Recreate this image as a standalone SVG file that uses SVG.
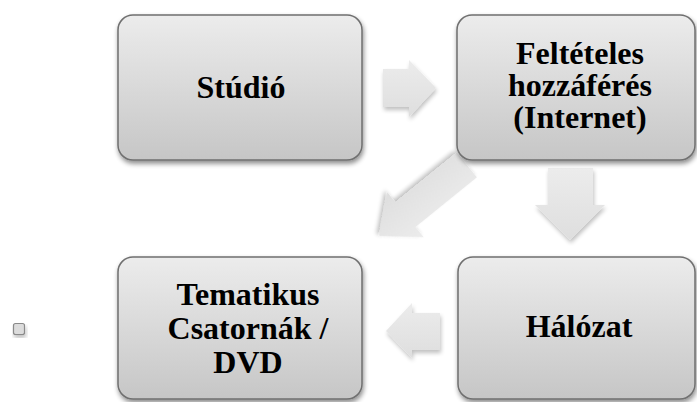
<svg xmlns="http://www.w3.org/2000/svg" width="697" height="402" viewBox="0 0 697 402">
<defs>
<linearGradient id="boxg" x1="0" y1="0" x2="0" y2="1">
<stop offset="0" stop-color="#ececec"/>
<stop offset="1" stop-color="#c6c6c6"/>
</linearGradient>
<linearGradient id="arrg" x1="0" y1="0" x2="0" y2="1">
<stop offset="0" stop-color="#ececec"/>
<stop offset="1" stop-color="#dedede"/>
</linearGradient>
<filter id="sh" x="-10%" y="-10%" width="125%" height="130%">
<feGaussianBlur in="SourceAlpha" stdDeviation="2.5"/>
<feOffset dx="1" dy="3" result="b"/>
<feComponentTransfer><feFuncA type="linear" slope="0.45"/></feComponentTransfer>
<feMerge><feMergeNode/><feMergeNode in="SourceGraphic"/></feMerge>
</filter>
<filter id="ash" x="-20%" y="-20%" width="150%" height="150%">
<feGaussianBlur in="SourceAlpha" stdDeviation="2"/>
<feOffset dx="1" dy="3" result="b"/>
<feComponentTransfer><feFuncA type="linear" slope="0.25"/></feComponentTransfer>
<feMerge><feMergeNode/><feMergeNode in="SourceGraphic"/></feMerge>
</filter>
</defs>
<style>
.box{fill:url(#boxg);stroke:#6f6f6f;stroke-width:1.5;filter:url(#sh)}
.lbl{font-family:'Liberation Serif','DejaVu Serif',serif;font-weight:700;font-size:32px;fill:#000;text-anchor:middle}
.arr{fill:url(#arrg);stroke:none;filter:url(#ash)}
</style>
<rect width="697" height="402" fill="#ffffff"/>
<g id="connectors">
<polygon class="arr" points="383,69 409,69 409,60 436,88 409,117 409,107 383,107"/>
<polygon class="arr" points="548,168 593,168 593,205 605,205 570,240 535,205 548,205"/>
<polygon class="arr" points="440,313 412,313 412,303 386,331 412,358 412,350 440,350"/>
<polygon class="arr" transform="translate(379,236) rotate(141)" points="-113,-16 -34,-16 -34,-29 0,0 -34,29 -34,16 -113,16"/>
</g>
<g id="studio">
<rect class="box" x="118" y="15" width="244" height="145" rx="15"/>
<text class="lbl" x="241" y="98">Stúdió</text>
</g>
<g id="feltételes">
<rect class="box" x="457" y="15" width="238" height="145" rx="15"/>
<text class="lbl" x="580" y="64">Feltételes</text>
<text class="lbl" x="580" y="96">hozzáférés</text>
<text class="lbl" x="580" y="128">(Internet)</text>
</g>
<g id="halozat">
<rect class="box" x="458" y="257" width="237" height="142" rx="15"/>
<text class="lbl" x="579" y="337">Hálózat</text>
</g>
<g id="tematikus">
<rect class="box" x="118" y="257" width="244" height="142" rx="15"/>
<text class="lbl" x="248" y="305">Tematikus</text>
<text class="lbl" x="248" y="339">Csatornák /</text>
<text class="lbl" x="248" y="373">DVD</text>
</g>
<g id="marker">
<rect x="13.5" y="323.5" width="11" height="11" rx="2" fill="#dcdcdc" stroke="#8a8a8a" stroke-width="1.2" filter="url(#ash)"/>
</g>
</svg>
